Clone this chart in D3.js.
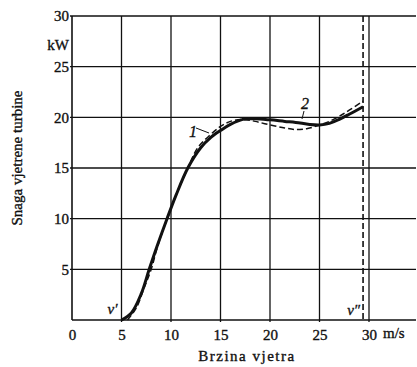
<!DOCTYPE html>
<html>
<head>
<meta charset="utf-8">
<script src="https://cdn.jsdelivr.net/npm/d3@7"></script>
<style>
  body { margin: 0; background: #fff; }
  text { font-family: "Liberation Serif", serif; fill: #111; stroke: #111; stroke-width: 0.35px; }
</style>
</head>
<body>
<div id="chart"></div>
<script>
var vizx = 417, vizy = 367;

// tick labels
var xTicks = [0, 5, 10, 15, 20, 25, 30];
var yTicks = [5, 10, 15, 20, 25, 30];

// curve 1 (solid)
var speed1 = [5, 6, 7, 7.8, 8.6, 9.6, 10.5, 11.7, 13, 14, 15, 16, 17.25, 18.5, 20, 21.5, 22.6, 24, 25, 26, 27, 28, 29.4];
var power1 = [0, 0.7, 2.6, 5, 7.3, 10, 12.3, 15, 17, 18, 18.7, 19.3, 19.8, 19.85, 19.75, 19.6, 19.5, 19.3, 19.25, 19.4, 19.8, 20.3, 21.05];

// curve 2 (dashed)
var speed2 = [5.6, 6.5, 7.3, 8, 8.6, 9.6, 10.5, 11.7, 12.7, 14, 15, 16, 17.25, 18.5, 20, 21.5, 22.6, 23.8, 25, 26, 27, 28, 29.4];
var power2 = [0, 1.2, 3.2, 5, 7.1, 10, 12.3, 15, 17, 18.3, 19.1, 19.6, 19.8, 19.6, 19.25, 18.95, 18.8, 18.9, 19.25, 19.6, 20.1, 20.7, 21.6];

var cutOut = 29.4;   // v''
var cutIn = 5;       // v'

var svg = d3.select("#chart")
  .append("svg")
    .attr("width", vizx)
    .attr("height", vizy);

var x = d3.scaleLinear().domain([0, 30]).range([72, 369]);
var y = d3.scaleLinear().domain([0, 30]).range([320, 16]);
var gridRight = 416;

// horizontal grid
svg.append("g")
  .selectAll("line")
  .data(yTicks)
  .enter().append("line")
    .attr("x1", x(0) - 2)
    .attr("x2", gridRight)
    .attr("y1", function(d) { return y(d); })
    .attr("y2", function(d) { return y(d); })
    .style("stroke", "#111")
    .style("stroke-width", 1.3);

// vertical grid
svg.append("g")
  .selectAll("line")
  .data(xTicks.slice(1))
  .enter().append("line")
    .attr("x1", function(d) { return x(d); })
    .attr("x2", function(d) { return x(d); })
    .attr("y1", y(30))
    .attr("y2", y(0) + 2)
    .style("stroke", "#111")
    .style("stroke-width", 1.3);

// axes
var xAxis = svg.append("g")
  .attr("transform", "translate(0," + y(0) + ")")
  .call(d3.axisBottom(x).tickValues(xTicks).tickSize(0).tickPadding(9))
xAxis.select(".domain").remove();
xAxis.selectAll("text")
  .style("font-family", "Liberation Serif")
  .style("font-size", "15px")
  .style("fill", "#111");

var yAxis = svg.append("g")
  .attr("transform", "translate(" + (x(0) - 1) + ",0)")
  .call(d3.axisLeft(y).tickValues(yTicks).tickSize(0).tickPadding(2))
yAxis.select(".domain").remove();
yAxis.selectAll("text")
  .style("font-family", "Liberation Serif")
  .style("font-size", "15px")
  .style("fill", "#111");

svg.append("line")
  .attr("x1", x(0)).attr("x2", x(0))
  .attr("y1", y(30)).attr("y2", y(0))
  .style("stroke", "#111").style("stroke-width", 1.6);
svg.append("line")
  .attr("x1", x(0)).attr("x2", gridRight)
  .attr("y1", y(0)).attr("y2", y(0))
  .style("stroke", "#111").style("stroke-width", 1.6);

// units
svg.append("text")
  .attr("x", 69).attr("y", 50)
  .attr("text-anchor", "end")
  .style("font-size", "15px")
  .text("kW");
svg.append("text")
  .attr("x", 383).attr("y", y(0) + 18)
  .style("font-size", "15px")
  .text("m/s");

// axis titles
svg.append("text")
  .attr("x", 247).attr("y", 361)
  .attr("text-anchor", "middle")
  .style("font-size", "15px")
  .style("letter-spacing", "1.5px")
  .text("Brzina vjetra");
svg.append("text")
  .attr("transform", "translate(22,158) rotate(-90)")
  .attr("text-anchor", "middle")
  .style("font-size", "15px")
  .text("Snaga vjetrene turbine");

// cut-out line
svg.append("line")
  .attr("x1", x(cutOut)).attr("x2", x(cutOut))
  .attr("y1", y(30)).attr("y2", y(0))
  .style("stroke", "#111")
  .style("stroke-width", 1.6)
  .style("stroke-dasharray", "6,3");

// curves
var line = d3.line()
  .x(function(d) { return x(d[0]); })
  .y(function(d) { return y(d[1]); })
  .curve(d3.curveCatmullRom.alpha(0.5));

svg.append("path")
  .datum(d3.zip(speed2, power2))
  .attr("d", line)
  .style("fill", "none")
  .style("stroke", "#111")
  .style("stroke-width", 1.5)
  .style("stroke-dasharray", "6,3");

svg.append("path")
  .datum(d3.zip(speed1, power1))
  .attr("d", line)
  .style("fill", "none")
  .style("stroke", "#111")
  .style("stroke-width", 3);

// curve labels
svg.append("text")
  .attr("x", 189).attr("y", 137)
  .style("font-size", "16px")
  .style("font-style", "italic")
  .text("1");
svg.append("line")
  .attr("x1", 196).attr("y1", 128)
  .attr("x2", 209).attr("y2", 133)
  .style("stroke", "#111").style("stroke-width", 1);

svg.append("text")
  .attr("x", 301).attr("y", 109)
  .style("font-size", "16px")
  .style("font-style", "italic")
  .text("2");
svg.append("line")
  .attr("x1", 304).attr("y1", 111)
  .attr("x2", 302).attr("y2", 119)
  .style("stroke", "#111").style("stroke-width", 1);

// v' and v''
svg.append("text")
  .attr("x", x(cutIn) - 4).attr("y", y(0) - 6)
  .attr("text-anchor", "end")
  .style("font-size", "15px")
  .style("font-style", "italic")
  .text("v\u2032");
svg.append("text")
  .attr("x", x(cutOut) - 3).attr("y", y(0) - 5)
  .attr("text-anchor", "end")
  .style("font-size", "15px")
  .style("font-style", "italic")
  .text("v\u2033");
</script>
</body>
</html>
